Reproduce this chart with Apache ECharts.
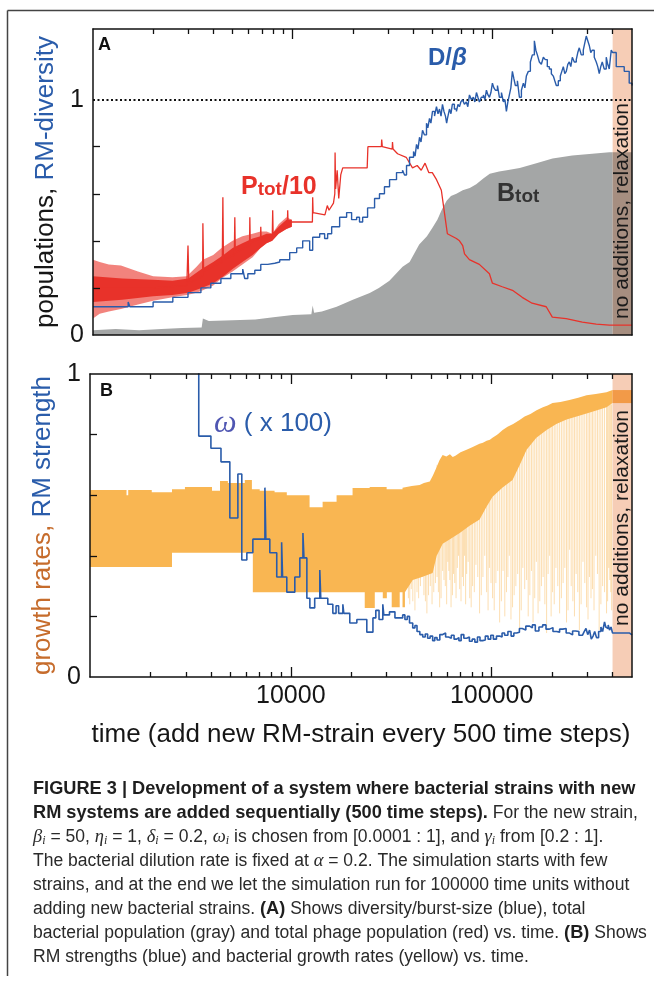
<!DOCTYPE html>
<html><head><meta charset="utf-8">
<script src="https://cdn.jsdelivr.net/npm/echarts@6/dist/echarts.min.js"></script>
<style>html,body{margin:0;padding:0;background:#fff}#c{width:654px;height:982px}</style>
</head><body><div id="c"></div>
<script>
// ---------- data ----------
const tMin = 1000, tMax = 500000, relaxStart = 400000;
const xMajorTicks = [10000, 100000];
const xMinorTicks = [2000,3000,4000,5000,6000,7000,8000,9000,20000,30000,40000,50000,60000,70000,80000,90000,200000,300000,400000];
const yTicks = [0.2, 0.4, 0.6, 0.8];
const yLabels = [0, 1];

// Panel A: D/beta (step), [time, value]
const diversity = [[1000,0.12],[1500,0.14],[1530,0.12],[2000,0.14],[2510,0.16],[2990,0.18],[3470,0.20],[3890,0.22],[4370,0.24],[4900,0.26],[5620,0.28],[5750,0.24],[5960,0.26],[6460,0.275],[6920,0.30],[7500,0.305],[8130,0.31],[8610,0.32],[9660,0.35],[10470,0.37],[11220,0.40],[12160,0.36],[12590,0.415],[13650,0.43],[14450,0.41],[14960,0.43],[15670,0.46],[17180,0.50],[18620,0.52],[19720,0.49],[20900,0.50],[21600,0.48],[22400,0.50],[23710,0.54],[25700,0.58],[27200,0.60],[28800,0.63],[30550,0.66],[33100,0.69],[35480,0.70],[36300,0.68],[37150,0.72],[38460,0.755],[40280,0.78],[41000,0.76],[41690,0.81],[42400,0.79],[43150,0.84],[43900,0.82],[44670,0.87],[45700,0.85],[46770,0.90],[47500,0.88],[48420,0.92],[49200,0.90],[50120,0.95],[51300,0.93],[52480,0.97],[53400,0.94],[54330,0.96],[55300,0.93],[56230,0.98],[57200,0.95],[58200,0.93],[59000,0.90],[59570,0.92],[60950,0.96],[62000,0.94],[63000,0.98],[64500,0.96],[66070,0.95],[67200,0.98],[68390,0.97],[69500,0.99],[70800,1.00],[72400,0.98],[74000,0.99],[75300,0.97],[76740,1.02],[78500,1.00],[80300,1.01],[81700,0.99],[83180,1.03],[84600,1.01],[86100,0.99],[88000,1.01],[90100,1.02],[91700,1.00],[93330,1.04],[95000,1.02],[96600,1.01],[98300,1.03],[100000,1.07],[101700,1.05],[103500,1.04],[106000,1.06],[108400,1.01],[111000,1.03],[113500,0.99],[115500,1.00],[117500,0.95],[119500,0.99],[121600,1.02],[123700,1.05],[125900,1.12],[128000,1.09],[130300,1.06],[133400,1.08],[136500,1.01],[139700,1.04],[142900,1.07],[145400,1.05],[147900,1.10],[151300,1.12],[154900,1.16],[158500,1.19],[162200,1.25],[165000,1.21],[167900,1.19],[171800,1.16],[175800,1.15],[179900,1.18],[184000,1.17],[188300,1.14],[192800,1.13],[197300,1.11],[201800,1.10],[205300,1.08],[208900,1.06],[213800,1.08],[218800,1.10],[222600,1.12],[226500,1.14],[230400,1.11],[234400,1.12],[238500,1.15],[242700,1.16],[246900,1.14],[251200,1.18],[257000,1.16],[263000,1.17],[267600,1.20],[272300,1.22],[278600,1.19],[285100,1.21],[290000,1.24],[295100,1.27],[300200,1.25],[305500,1.23],[310800,1.20],[316200,1.21],[323600,1.18],[331100,1.16],[336900,1.14],[342800,1.11],[348800,1.14],[354800,1.16],[363000,1.13],[371500,1.18],[378000,1.15],[384600,1.13],[389000,1.17],[393600,1.21],[400000,1.20],[416900,1.14],[457100,1.12],[484200,1.07],[500000,1.06]];

// Panel A: oscillating phage envelopes [time, low, high]
const phageBand = [[1000,0.07,0.32],[1080,0.09,0.31],[1200,0.10,0.30],[1380,0.11,0.295],[1680,0.13,0.27],[2000,0.145,0.25],[2500,0.16,0.245],[2950,0.17,0.25],[3300,0.18,0.29],[3550,0.19,0.32],[4000,0.21,0.34],[4400,0.24,0.37],[5000,0.27,0.40],[5600,0.30,0.42],[6300,0.33,0.43],[6900,0.37,0.44],[7400,0.39,0.44],[7900,0.40,0.43],[8500,0.43,0.47],[9300,0.45,0.50],[9900,0.46,0.49]];
const phageCore = [[1000,0.14,0.25],[1400,0.15,0.24],[2000,0.165,0.235],[2500,0.17,0.23],[3000,0.18,0.24],[3500,0.20,0.28],[4000,0.22,0.31],[4500,0.25,0.34],[5000,0.28,0.37],[5600,0.31,0.39],[6300,0.34,0.41],[6900,0.37,0.42],[7400,0.39,0.43],[7900,0.40,0.43],[8500,0.43,0.46],[9300,0.45,0.49],[9900,0.46,0.49]];

// Panel A: Ptot/10 [time, value]
const phage = [[1000,0.20],[2000,0.20],[2950,0.21],[2990,0.38],[3020,0.22],[3540,0.25],[3550,0.475],[3580,0.27],[4440,0.31],[4470,0.585],[4500,0.32],[5100,0.34],[5130,0.50],[5160,0.35],[6080,0.38],[6100,0.50],[6130,0.39],[6900,0.41],[6920,0.46],[6950,0.41],[7900,0.42],[7940,0.53],[7980,0.43],[9400,0.47],[9440,0.53],[9480,0.48],[10000,0.48],[12550,0.48],[12590,0.585],[12650,0.52],[14500,0.51],[14900,0.55],[15200,0.53],[16000,0.56],[16250,0.60],[16300,0.775],[16400,0.62],[16700,0.70],[17000,0.58],[17400,0.68],[17800,0.71],[23600,0.71],[23800,0.80],[27800,0.80],[27900,0.83],[28100,0.80],[31500,0.79],[31600,0.82],[31800,0.79],[33500,0.77],[37000,0.755],[39800,0.71],[42000,0.72],[44000,0.70],[46000,0.73],[48000,0.69],[50000,0.69],[52500,0.66],[55500,0.615],[57500,0.52],[59500,0.43],[66000,0.41],[68400,0.40],[71000,0.38],[72500,0.345],[76700,0.32],[86000,0.30],[96600,0.26],[100000,0.22],[112000,0.205],[126000,0.19],[141000,0.16],[158000,0.135],[186000,0.12],[199500,0.076],[234000,0.07],[282000,0.055],[331000,0.046],[385000,0.042],[500000,0.042]];

// Panel A: Btot [time, value]
const bacteria = [[1000,0.02],[1300,0.025],[1700,0.02],[2200,0.025],[2800,0.03],[3500,0.032],[3550,0.07],[3800,0.06],[5000,0.063],[6500,0.066],[8000,0.075],[10000,0.085],[12400,0.088],[12590,0.125],[12800,0.095],[14000,0.10],[16600,0.12],[20000,0.15],[24300,0.178],[27000,0.20],[30500,0.23],[35500,0.29],[38500,0.31],[43000,0.385],[47000,0.42],[50000,0.455],[53000,0.49],[56000,0.535],[59000,0.57],[62000,0.59],[66000,0.60],[71000,0.615],[77000,0.625],[83000,0.64],[90000,0.665],[97000,0.685],[108000,0.695],[118000,0.70],[137000,0.71],[166000,0.73],[200000,0.75],[251000,0.763],[316000,0.77],[385000,0.776],[400000,0.776],[500000,0.776]];

// Panel B: growth-rate range [time, value] (stepwise before 37000)
const growthUpper = [[1000,0.617],[1520,0.60],[1550,0.617],[2030,0.61],[2560,0.62],[2970,0.627],[4050,0.615],[4440,0.647],[4860,0.64],[5900,0.65],[6400,0.62],[7000,0.615],[8300,0.61],[9550,0.60],[12000,0.60],[12400,0.56],[14400,0.578],[16900,0.60],[20300,0.624],[24700,0.627],[30000,0.62],[36000,0.625],[40000,0.63],[43800,0.634],[46000,0.64],[49200,0.645],[51000,0.665],[53000,0.69],[55000,0.715],[57000,0.733],[59500,0.728],[62000,0.735],[64000,0.726],[66000,0.73],[70000,0.742],[75000,0.75],[80000,0.758],[87000,0.77],[90500,0.773],[94400,0.78],[98000,0.783],[101000,0.79],[107000,0.80],[113500,0.815],[120000,0.826],[128000,0.835],[137800,0.848],[146000,0.86],[156000,0.868],[167400,0.88],[180000,0.89],[190000,0.896],[201000,0.904],[220000,0.908],[244000,0.914],[270000,0.922],[297000,0.93],[330000,0.934],[373000,0.94],[400000,0.947],[500000,0.947]];
const growthLower = [[1000,0.363],[2560,0.41],[6470,0.28],[23340,0.228],[26190,0.28],[28710,0.26],[30070,0.28],[31800,0.23],[34850,0.28],[36000,0.23],[37000,0.28],[40460,0.32],[45000,0.33],[50850,0.343],[53250,0.40],[57050,0.44],[62000,0.455],[69340,0.475],[78000,0.50],[87120,0.52],[94000,0.56],[101100,0.595],[113000,0.625],[127100,0.65],[138000,0.70],[149300,0.75],[167000,0.79],[187800,0.815],[210000,0.835],[236000,0.85],[265000,0.86],[297000,0.87],[335000,0.88],[373400,0.89],[400000,0.904],[500000,0.904]];
const growthStepUntil = 37000;
// faint downward excursions [time, lowest, hidden top]
const growthDips = [[38500,0.26,0.6],[39100,0.24,0.6],[39800,0.29,0.6],[40500,0.25,0.6],[41500,0.22,0.6],[42500,0.28,0.6],[43300,0.26,0.6],[44200,0.30,0.6],[45100,0.33,0.6],[46000,0.27,0.6],[46800,0.25,0.6],[47600,0.21,0.6],[48500,0.27,0.6],[49500,0.30,0.6],[50500,0.24,0.6],[51500,0.28,0.6],[52500,0.31,0.6],[53500,0.33,0.7],[54300,0.28,0.7],[55100,0.23,0.7],[56000,0.26,0.7],[57000,0.35,0.7],[57900,0.32,0.7],[58800,0.30,0.7],[59700,0.24,0.7],[60500,0.38,0.7],[61200,0.35,0.7],[61900,0.32,0.7],[62800,0.23,0.7],[63800,0.27,0.7],[64600,0.34,0.7],[65500,0.31,0.7],[66500,0.26,0.7],[67500,0.36,0.7],[68400,0.40,0.7],[69300,0.29,0.7],[70400,0.25,0.7],[71500,0.33,0.7],[72400,0.30,0.7],[73300,0.40,0.7],[74200,0.24,0.7],[75100,0.34,0.7],[76400,0.38,0.7],[77800,0.26,0.7],[79100,0.23,0.7],[80400,0.30,0.7],[82000,0.28,0.7],[83500,0.37,0.7],[85300,0.33,0.7],[87100,0.21,0.7],[88800,0.27,0.7],[90500,0.33,0.7],[92400,0.40,0.7],[94400,0.28,0.7],[96000,0.22,0.7],[97500,0.36,0.7],[99300,0.31,0.7],[101100,0.26,0.7],[103000,0.22,0.7],[105000,0.31,0.7],[107300,0.35,0.8],[109600,0.18,0.8],[111800,0.25,0.8],[114000,0.35,0.8],[116300,0.20,0.8],[118600,0.28,0.8],[120500,0.33,0.8],[122500,0.40,0.8],[124800,0.19,0.8],[127100,0.23,0.8],[129500,0.27,0.8],[132000,0.30,0.8],[134800,0.34,0.8],[137800,0.155,0.8],[140400,0.22,0.8],[143000,0.36,0.8],[146100,0.29,0.8],[149300,0.32,0.8],[152100,0.20,0.8],[155000,0.27,0.8],[157900,0.35,0.8],[160800,0.18,0.8],[163900,0.26,0.8],[167000,0.38,0.8],[170300,0.21,0.88],[173700,0.25,0.88],[177000,0.30,0.88],[180500,0.33,0.88],[184100,0.24,0.88],[187800,0.145,0.88],[191100,0.34,0.88],[194500,0.40,0.88],[197800,0.20,0.88],[201100,0.28,0.88],[205000,0.24,0.88],[209000,0.36,0.88],[213500,0.30,0.88],[218000,0.21,0.88],[222500,0.26,0.88],[227000,0.31,0.88],[231500,0.36,0.88],[236000,0.18,0.88],[240200,0.22,0.88],[244500,0.42,0.88],[249000,0.30,0.9],[253800,0.25,0.9],[258500,0.20,0.9],[263500,0.34,0.9],[268500,0.28,0.9],[273500,0.155,0.9],[279000,0.24,0.9],[285000,0.38,0.9],[291000,0.31,0.9],[297000,0.23,0.9],[302000,0.19,0.9],[307000,0.33,0.9],[312500,0.26,0.9],[317800,0.29,0.9],[323500,0.22,0.9],[330000,0.40,0.9],[336500,0.34,0.9],[343100,0.155,0.9],[350000,0.24,0.9],[357000,0.30,0.9],[365000,0.28,0.9],[373400,0.21,0.9],[378000,0.25,0.9],[383000,0.36,0.9],[387500,0.32,0.9],[392000,0.28,0.9],[396000,0.22,0.9]];

// Panel B: omega x100 (step) [time, value]
const omega = [[3480,1.4],[3480,0.795],[4000,0.755],[4490,0.71],[4970,0.525],[5450,0.67],[5700,0.386],[6040,0.41],[6470,0.455],[7430,0.625],[7510,0.455],[7860,0.41],[8510,0.33],[9000,0.445],[9100,0.33],[9550,0.28],[10470,0.33],[11090,0.393],[11490,0.475],[11630,0.393],[12020,0.26],[12440,0.228],[13150,0.26],[13940,0.353],[14100,0.26],[15280,0.24],[16190,0.21],[16800,0.235],[17300,0.21],[18160,0.24],[18360,0.21],[19660,0.178],[21320,0.19],[23900,0.148],[25640,0.195],[26500,0.22],[27500,0.19],[28710,0.24],[29050,0.205],[31000,0.215],[33000,0.195],[36060,0.205],[37000,0.19],[38000,0.20],[39000,0.178],[40460,0.162],[41500,0.17],[42500,0.15],[43900,0.14],[45390,0.132],[46700,0.142],[48000,0.128],[49400,0.135],[50850,0.12],[52100,0.13],[53500,0.122],[55200,0.14],[57050,0.145],[59000,0.132],[61000,0.128],[63000,0.138],[65000,0.125],[66990,0.13],[68700,0.12],[70500,0.14],[72700,0.128],[75110,0.132],[77500,0.118],[80000,0.125],[82500,0.115],[85000,0.132],[87500,0.12],[90220,0.122],[93000,0.135],[96000,0.125],[99000,0.138],[102000,0.125],[105700,0.135],[109600,0.132],[112700,0.145],[116000,0.138],[120500,0.15],[125000,0.135],[129000,0.145],[133100,0.148],[137500,0.16],[142000,0.155],[148000,0.168],[154500,0.162],[159500,0.172],[165000,0.152],[172000,0.165],[179400,0.172],[186500,0.158],[194000,0.163],[202000,0.15],[210500,0.148],[218000,0.158],[226000,0.16],[235000,0.145],[244300,0.139],[253000,0.152],[262000,0.15],[272000,0.138],[283500,0.135],[289000,0.15],[295000,0.16],[301000,0.14],[307400,0.155],[313500,0.125],[320000,0.135],[326000,0.15],[332900,0.13],[341000,0.15],[350000,0.165],[357000,0.15],[364900,0.182],[370000,0.165],[375000,0.16],[380500,0.172],[386300,0.155],[393000,0.165],[400000,0.145],[486500,0.139],[500000,0.139]];

// ---------- styling ----------
const FONT = '"Liberation Sans", Arial, Helvetica, sans-serif';
const SERIF = '"Liberation Serif", "DejaVu Serif", serif';
const BLUE = '#2a5caa', RED = '#e8322a', RED_LIGHT = 'rgba(234,55,45,0.62)', GRAY = '#a4a6a6', ORANGE = '#f9b652', ORANGE_DARK = '#f29a48';
const BAND = '#f6cdb6', GRAY_BAND = '#a68e80', TXT = '#161616', BROWN = '#c66c2c';
const AX = {color: '#111', width: 1.5};

function stepPts(arr, until) {
  const out = [];
  arr.forEach((p, i) => {
    out.push([p[0], p[1]]);
    if (i < arr.length - 1 && arr[i + 1][0] <= until) out.push([arr[i + 1][0], p[1]]);
  });
  return out;
}
function polySeries(xi, yi, top, bottom, fill, z) {
  return {
    type: 'custom', coordinateSystem: 'cartesian2d', xAxisIndex: xi, yAxisIndex: yi, z: z, silent: true,
    data: [[top[0][0], top[0][1]]],
    renderItem: (params, api) => ({
      type: 'polygon',
      shape: {points: top.concat(bottom.slice().reverse()).map(p => api.coord(p))},
      style: {fill: fill}
    })
  };
}
const before = arr => arr.filter(p => p[0] <= relaxStart);
const after = arr => arr.filter(p => p[0] >= relaxStart);

function xAxis(grid, pos, ticks, len, line, extra) {
  return Object.assign({
    type: 'log', logBase: 10, gridIndex: grid, position: pos, min: tMin, max: tMax, z: 10,
    splitLine: {show: false}, minorTick: {show: false},
    axisLine: {show: line, onZero: false, lineStyle: AX},
    axisTick: ticks ? {show: true, inside: true, length: len, customValues: ticks, lineStyle: {color: '#111', width: 1.3}} : {show: false},
    axisLabel: {show: false}
  }, extra || {});
}
function yAxis(grid, pos, max, main, name, gap) {
  const a = {
    type: 'value', gridIndex: grid, position: pos, min: 0, max: max, z: 10,
    splitLine: {show: false},
    axisLine: {show: true, onZero: false, lineStyle: AX},
    axisTick: main ? {show: true, inside: true, length: 7, customValues: yTicks, lineStyle: {color: '#111', width: 1.3}} : {show: false},
    axisLabel: main ? {show: true, customValues: yLabels, fontSize: 25, fontFamily: FONT, color: TXT, margin: 9} : {show: false}
  };
  if (name) {
    a.name = name; a.nameLocation = 'middle'; a.nameRotate = 90; a.nameGap = gap;
    a.nameTextStyle = {fontSize: 26, fontFamily: FONT, color: TXT, rich: {
      k: {fontSize: 26, fontFamily: FONT, color: TXT},
      b: {fontSize: 26, fontFamily: FONT, color: BLUE},
      o: {fontSize: 26, fontFamily: FONT, color: BROWN}}};
  }
  return a;
}

const capRich = {
  b: {fontSize: 18.2, fontWeight: 'bold', fontFamily: FONT, fill: '#1e1e1e'},
  n: {fontSize: 17.55, fontFamily: FONT, fill: '#2a2a2a'},
  i: {fontSize: 18.5, fontStyle: 'italic', fontFamily: SERIF, fill: '#2a2a2a'},
  s: {fontSize: 12, fontStyle: 'italic', fontFamily: SERIF, fill: '#2a2a2a', verticalAlign: 'bottom'}
};
const captionLines = [
  '{b|FIGURE 3 | Development of a system where bacterial strains with new}',
  '{b|RM systems are added sequentially (500 time steps).}{n| For the new strain,}',
  '{i|β}{s|i}{n| = 50, }{i|η}{s|i}{n| = 1, }{i|δ}{s|i}{n| = 0.2, }{i|ω}{s|i}{n| is chosen from [0.0001 : 1], and }{i|γ}{s|i}{n| from [0.2 : 1].}',
  '{n|The bacterial dilution rate is fixed at }{i|α}{n| = 0.2. The simulation starts with few}',
  '{n|strains, and at the end we let the simulation run for 100000 time units without}',
  '{n|adding new bacterial strains. }{b|(A)}{n| Shows diversity/burst-size (blue), total}',
  '{n|bacterial population (gray) and total phage population (red) vs. time. }{b|(B)}{n| Shows}',
  '{n|RM strengths (blue) and bacterial growth rates (yellow) vs. time.}'
];

const graphics = [
  {type: 'line', shape: {x1: 7.5, y1: 10.5, x2: 654, y2: 10.5}, style: {stroke: '#444', lineWidth: 1.5}},
  {type: 'line', shape: {x1: 7.5, y1: 10.5, x2: 7.5, y2: 976}, style: {stroke: '#444', lineWidth: 1.5}},
  {type: 'text', x: 98, y: 45, z: 20, style: {text: 'A', font: 'bold 18px ' + FONT, fill: '#111', verticalAlign: 'middle'}},
  {type: 'text', x: 100, y: 391, z: 20, style: {text: 'B', font: 'bold 18px ' + FONT, fill: '#111', verticalAlign: 'middle'}},
  {type: 'text', x: 428, y: 58, z: 20, style: {text: '{d|D/}{g|β}', verticalAlign: 'middle', rich: {
    d: {fontSize: 24, fontWeight: 'bold', fontFamily: FONT, fill: BLUE},
    g: {fontSize: 24, fontWeight: 'bold', fontStyle: 'italic', fontFamily: FONT, fill: BLUE}}}},
  {type: 'text', x: 241, y: 187, z: 20, style: {text: '{P|P}{t|tot}{P|/10}', verticalAlign: 'middle', rich: {
    P: {fontSize: 25, fontWeight: 'bold', fontFamily: FONT, fill: RED},
    t: {fontSize: 19, fontWeight: 'bold', fontFamily: FONT, fill: RED, verticalAlign: 'bottom'}}}},
  {type: 'text', x: 497, y: 194, z: 20, style: {text: '{P|B}{t|tot}', verticalAlign: 'middle', rich: {
    P: {fontSize: 25, fontWeight: 'bold', fontFamily: FONT, fill: '#333'},
    t: {fontSize: 19, fontWeight: 'bold', fontFamily: FONT, fill: '#333', verticalAlign: 'bottom'}}}},
  {type: 'text', x: 214, y: 424, z: 20, style: {text: '{w|ω}{t| ( x 100)}', verticalAlign: 'middle', rich: {
    w: {fontSize: 32, fontStyle: 'italic', fontFamily: SERIF, fill: '#4f56b2'},
    t: {fontSize: 26, fontFamily: FONT, fill: BLUE}}}},
  {type: 'text', x: 622, y: 211, rotation: Math.PI / 2, z: 20, style: {text: 'no additions, relaxation', font: '21px ' + FONT, fill: '#1a1a1a', align: 'center', verticalAlign: 'middle'}},
  {type: 'text', x: 622, y: 518, rotation: Math.PI / 2, z: 20, style: {text: 'no additions, relaxation', font: '21px ' + FONT, fill: '#1a1a1a', align: 'center', verticalAlign: 'middle'}}
];
captionLines.forEach((t, i) => graphics.push({type: 'text', x: 33, y: 789 + i * 24, style: {text: t, rich: capRich, verticalAlign: 'middle', align: 'left'}}));

const option = {
  animation: false,
  backgroundColor: '#fff',
  grid: [
    {left: 93, right: 22, top: 29, height: 306},
    {left: 90, right: 22, top: 374, height: 303}
  ],
  xAxis: [
    xAxis(0, 'top', xMajorTicks, 10, true),
    xAxis(0, 'top', xMinorTicks, 5, false),
    xAxis(0, 'bottom', null, 0, true),
    xAxis(1, 'bottom', xMajorTicks, 10, true, {
      axisLabel: {show: true, customValues: xMajorTicks, formatter: v => String(Math.round(v)), fontSize: 25, fontFamily: FONT, color: TXT, margin: 7},
      name: 'time (add new RM-strain every 500 time steps)', nameLocation: 'middle', nameGap: 45,
      nameTextStyle: {fontSize: 26, fontFamily: FONT, color: TXT}}),
    xAxis(1, 'bottom', xMinorTicks, 5, false),
    xAxis(1, 'top', xMajorTicks, 10, true),
    xAxis(1, 'top', xMinorTicks, 5, false)
  ],
  yAxis: [
    yAxis(0, 'left', 1.3, true, '{k|populations, }{b|RM-diversity}', 33),
    yAxis(0, 'right', 1.3, false),
    yAxis(1, 'left', 1, true, '{o|growth rates, }{b|RM strength}', 31),
    yAxis(1, 'right', 1, false)
  ],
  series: [
    {type: 'line', xAxisIndex: 0, yAxisIndex: 0, z: 1, data: [[relaxStart, 0]], showSymbol: false, lineStyle: {opacity: 0}, silent: true,
      markArea: {silent: true, itemStyle: {color: BAND}, data: [[{xAxis: relaxStart}, {xAxis: tMax}]]}},
    {type: 'line', xAxisIndex: 3, yAxisIndex: 2, z: 1, data: [[relaxStart, 0]], showSymbol: false, lineStyle: {opacity: 0}, silent: true,
      markArea: {silent: true, itemStyle: {color: BAND}, data: [[{xAxis: relaxStart}, {xAxis: tMax}]]}},
    // Panel A
    {type: 'line', xAxisIndex: 0, yAxisIndex: 0, z: 2, data: before(bacteria), showSymbol: false, lineStyle: {width: 0}, areaStyle: {color: GRAY, opacity: 1}, silent: true},
    {type: 'line', xAxisIndex: 0, yAxisIndex: 0, z: 2, data: after(bacteria), showSymbol: false, lineStyle: {width: 0}, areaStyle: {color: GRAY_BAND, opacity: 1}, silent: true},
    polySeries(0, 0, phageBand.map(p => [p[0], p[2]]), phageBand.map(p => [p[0], p[1]]), RED_LIGHT, 3),
    polySeries(0, 0, phageCore.map(p => [p[0], p[2]]), phageCore.map(p => [p[0], p[1]]), RED, 3),
    {type: 'line', xAxisIndex: 0, yAxisIndex: 0, z: 4, data: phage, showSymbol: false, lineStyle: {color: RED, width: 1.3}, silent: true},
    {type: 'line', xAxisIndex: 0, yAxisIndex: 0, z: 5, data: diversity, step: 'end', showSymbol: false, lineStyle: {color: BLUE, width: 1.4}, silent: true,
      markLine: {silent: true, symbol: 'none', label: {show: false}, lineStyle: {color: '#111', type: [2, 2.5], width: 2}, data: [{yAxis: 1}]}},
    // Panel B
    {type: 'custom', coordinateSystem: 'cartesian2d', xAxisIndex: 3, yAxisIndex: 2, z: 2, silent: true, data: growthDips,
      renderItem: (params, api) => {
        const a = api.coord([api.value(0), api.value(1)]), b = api.coord([api.value(0), api.value(2)]);
        return {type: 'line', shape: {x1: a[0], y1: a[1], x2: b[0], y2: b[1]}, style: {stroke: ORANGE, lineWidth: 1, opacity: 0.45}};
      }},
    polySeries(3, 2, stepPts(before(growthUpper), growthStepUntil), stepPts(before(growthLower), growthStepUntil), ORANGE, 3),
    polySeries(3, 2, stepPts(after(growthUpper), 0), stepPts(after(growthLower), 0), ORANGE_DARK, 3),
    {type: 'line', xAxisIndex: 3, yAxisIndex: 2, z: 5, data: omega, step: 'end', showSymbol: false, lineStyle: {color: BLUE, width: 1.6}, silent: true}
  ],
  graphic: graphics
};
const chart = echarts.init(document.getElementById('c'));
chart.setOption(option);
</script></body></html>
